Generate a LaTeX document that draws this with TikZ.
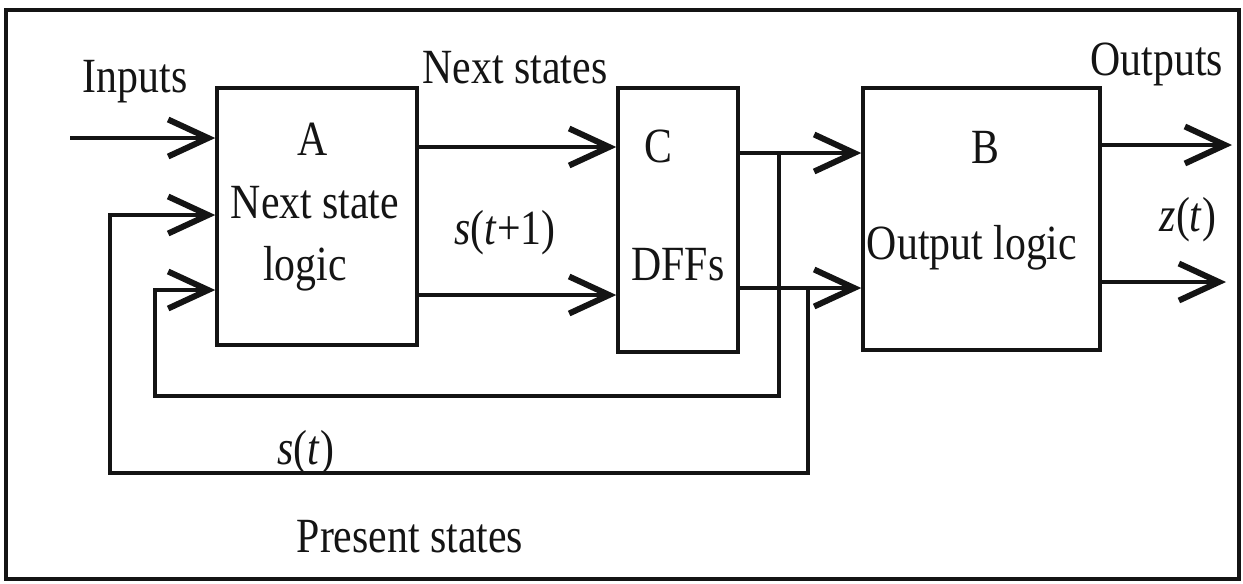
\documentclass[tikz,border=0pt]{standalone}
\usepackage{fontspec}
\setmainfont{Liberation Serif}[FakeStretch=0.85]
\usetikzlibrary{arrows.meta,positioning}
\definecolor{ink}{RGB}{20,20,20}
\tikzset{
  blk/.style={draw=ink,line width=2pt,inner sep=0pt},
  lbl/.style={font=\fontsize{28}{30}\selectfont,inner sep=0pt,anchor=base,text=ink},
  wire/.style={draw=ink,line width=2pt},
  arr/.style={wire,-{Straight Barb[length=0.8cm,width=0.74cm,line width=3.4pt]}},
}
\begin{document}
\begin{tikzpicture}[x=0.02cm,y=-0.02cm]
  \useasboundingbox (0,0) rectangle (1243,583);
  % outer frame
  \draw[ink,line width=2pt] (6,10) rectangle (1239,579);
  % the three blocks
  \node[blk,minimum width=4cm,minimum height=5.14cm] (A) at (317,216.5) {};
  \node[blk,minimum width=2.4cm,minimum height=5.28cm] (C) at (678,220) {};
  \node[blk,minimum width=4.74cm,minimum height=5.24cm] (B) at (981.5,219) {};
  \node[lbl] (Aname) at (313,155) {A};
  \node[lbl] (Atxt1) at (315,218) {Next state};
  \node[lbl] (Atxt2) at (305,280) {logic};
  \node[lbl] (Cname) at (658,162) {C};
  \node[lbl] (Ctxt) at (678,280) {DFFs};
  \node[lbl] (Bname) at (985,163) {B};
  \node[lbl] (Btxt) at (972,259) {Output logic};
  % labels on the wires
  \node[lbl] (inputs) at (135,92) {Inputs};
  \node[lbl] (nexts) at (515,83) {Next states};
  \node[lbl] (snext) at (505,244) {\textit{s}(\textit{t}+1)};
  \node[lbl] (outputs) at (1157,75) {Outputs};
  \node[lbl] (zt) at (1188,231) {\textit{z}(\textit{t})};
  \node[lbl] (st) at (306,464) {\textit{s}(\textit{t})};
  \node[lbl] (present) at (410,552) {Present states};
  % free ends and branch points
  \coordinate (in) at (70,138);
  \coordinate (out1) at (1232,145);
  \coordinate (out2) at (1226,282);
  \coordinate (j1) at (779,153);
  \coordinate (j2) at (808,288);
  % forward paths
  \draw[arr] (in) -- (in -| A.west);
  \draw[arr] (A.east |- 0,147) -- (C.west |- 0,147);
  \draw[arr] (A.east |- 0,295) -- (C.west |- 0,295);
  \draw[arr] (C.east |- j1) -- (B.west |- j1);
  \draw[arr] (C.east |- j2) -- (B.west |- j2);
  \draw[arr] (B.east |- out1) -- (out1);
  \draw[arr] (B.east |- out2) -- (out2);
  % feedback of the present states
  \draw[arr] (j1) |- (155,396) |- (A.west |- 0,290);
  \draw[arr] (j2) |- (110,473) |- (A.west |- 0,215);
\end{tikzpicture}
\end{document}
